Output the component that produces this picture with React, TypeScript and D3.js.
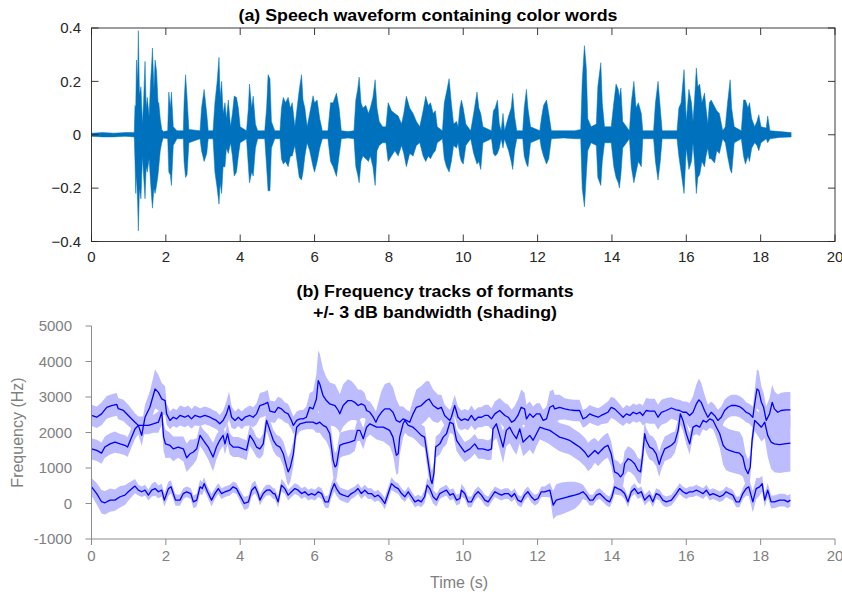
import React from "react";
import * as d3 from "d3";

// ---------- Waveform envelope (seconds, upper peak, lower peak) ----------
const waveT = [
  0.0, 0.3, 0.6, 0.9, 1.15, 1.17, 1.19, 1.21, 1.24, 1.26, 1.29, 1.33, 1.37, 1.4, 1.44, 1.47, 1.5, 1.55, 1.59, 1.62,
  1.64, 1.68, 1.71, 1.75, 1.79, 1.81, 1.85, 1.89, 1.93, 2.05, 2.08, 2.12, 2.15, 2.2, 2.3, 2.47, 2.49, 2.53, 2.57, 2.62,
  2.92, 2.96, 3.03, 3.1, 3.14, 3.27, 3.32, 3.38, 3.43, 3.46, 3.5, 3.54, 3.59, 3.63, 3.68, 3.74, 3.79, 3.84, 3.9, 3.95,
  4.0, 4.17, 4.22, 4.25, 4.31, 4.35, 4.41, 4.47, 4.66, 4.71, 4.75, 4.8, 4.84, 4.93, 5.07, 5.11, 5.16, 5.22, 5.29, 5.35,
  5.4, 5.47, 5.53, 5.59, 5.65, 5.69, 5.74, 5.8, 5.87, 5.96, 6.0, 6.07, 6.14, 6.21, 6.36, 6.43, 6.5, 6.59, 6.66, 6.72,
  6.9, 7.06, 7.11, 7.16, 7.2, 7.25, 7.3, 7.38, 7.45, 7.5, 7.57, 7.63, 7.68, 7.74, 7.83, 7.92, 7.98, 8.07, 8.16, 8.25,
  8.34, 8.4, 8.47, 8.56, 8.65, 8.74, 8.83, 8.92, 8.99, 9.06, 9.12, 9.19, 9.25, 9.3, 9.44, 9.49, 9.55, 9.62, 9.68, 9.74,
  9.82, 9.86, 9.91, 9.95, 10.0, 10.07, 10.2, 10.28, 10.37, 10.42, 10.47, 10.53, 10.76, 10.81, 10.86, 10.92, 10.97, 11.02, 11.07, 11.11,
  11.22, 11.29, 11.33, 11.38, 11.44, 11.6, 11.64, 11.7, 11.74, 11.81, 12.06, 12.1, 12.16, 12.24, 12.3, 12.37, 12.7, 13.0, 13.16, 13.2,
  13.26, 13.31, 13.35, 13.44, 13.58, 13.62, 13.7, 13.74, 13.8, 13.98, 14.05, 14.11, 14.17, 14.2, 14.24, 14.29, 14.47, 14.52, 14.59, 14.65,
  14.71, 14.79, 14.83, 15.12, 15.17, 15.24, 15.3, 15.35, 15.75, 15.8, 15.86, 15.94, 16.0, 16.07, 16.14, 16.18, 16.23, 16.27, 16.31, 16.36,
  16.42, 16.49, 16.53, 16.58, 16.62, 16.67, 16.76, 16.82, 16.89, 16.98, 17.05, 17.11, 17.18, 17.22, 17.29, 17.48, 17.54, 17.59, 17.66, 17.7,
  17.76, 17.84, 17.9, 17.95, 18.01, 18.15, 18.19, 18.25, 18.51, 18.82,
];
const waveHi = [
  0.006, 0.008, 0.006, 0.008, 0.008, 0.11, 0.1, 0.28, 0.2, 0.39, 0.15, 0.18, 0.04, 0.12, 0.275, 0.1, 0.14, 0.07, 0.2, 0.27,
  0.325, 0.17, 0.28, 0.24, 0.12, 0.12, 0.06, 0.02, 0.012, 0.015, 0.16, 0.1, 0.16, 0.03, 0.015, 0.015, 0.12, 0.225, 0.14, 0.02,
  0.015, 0.1, 0.17, 0.08, 0.015, 0.015, 0.12, 0.2, 0.29, 0.14, 0.2, 0.08, 0.12, 0.06, 0.13, 0.03, 0.08, 0.145, 0.14, 0.1,
  0.03, 0.015, 0.1, 0.19, 0.1, 0.145, 0.04, 0.015, 0.015, 0.1, 0.225, 0.21, 0.05, 0.015, 0.015, 0.1, 0.14, 0.12, 0.14, 0.1,
  0.12, 0.03, 0.1, 0.17, 0.225, 0.13, 0.1, 0.03, 0.08, 0.146, 0.12, 0.13, 0.06, 0.015, 0.015, 0.12, 0.12, 0.156, 0.1, 0.015,
  0.012, 0.015, 0.13, 0.17, 0.216, 0.12, 0.1, 0.11, 0.08, 0.1, 0.14, 0.206, 0.1, 0.05, 0.03, 0.03, 0.12, 0.09, 0.08, 0.07,
  0.04, 0.08, 0.144, 0.1, 0.08, 0.05, 0.03, 0.09, 0.144, 0.11, 0.12, 0.08, 0.09, 0.03, 0.015, 0.12, 0.16, 0.21, 0.12, 0.04,
  0.05, 0.03, 0.1, 0.13, 0.1, 0.04, 0.015, 0.08, 0.16, 0.1, 0.08, 0.03, 0.015, 0.09, 0.1, 0.13, 0.04, 0.015, 0.08, 0.015,
  0.07, 0.1, 0.155, 0.07, 0.015, 0.015, 0.1, 0.17, 0.1, 0.03, 0.015, 0.06, 0.11, 0.13, 0.08, 0.015, 0.015, 0.015, 0.02, 0.2,
  0.334, 0.25, 0.06, 0.03, 0.04, 0.18, 0.27, 0.12, 0.03, 0.03, 0.12, 0.19, 0.17, 0.14, 0.175, 0.05, 0.015, 0.12, 0.2, 0.1,
  0.12, 0.08, 0.015, 0.015, 0.12, 0.2, 0.1, 0.015, 0.015, 0.1, 0.12, 0.244, 0.05, 0.17, 0.12, 0.05, 0.15, 0.25, 0.18, 0.19,
  0.12, 0.156, 0.1, 0.04, 0.12, 0.13, 0.106, 0.09, 0.08, 0.015, 0.03, 0.12, 0.206, 0.1, 0.03, 0.015, 0.13, 0.13, 0.1, 0.12,
  0.06, 0.03, 0.05, 0.075, 0.03, 0.025, 0.07, 0.015, 0.012, 0.008,
];
const waveLo = [
  -0.006, -0.008, -0.008, -0.006, -0.008, -0.1, -0.22, -0.15, -0.25, -0.36, -0.2, -0.24, -0.08, -0.15, -0.24, -0.12, -0.14, -0.09, -0.18, -0.24,
  -0.275, -0.2, -0.22, -0.19, -0.15, -0.12, -0.06, -0.03, -0.012, -0.015, -0.14, -0.15, -0.19, -0.04, -0.015, -0.015, -0.1, -0.16, -0.15, -0.03,
  -0.015, -0.06, -0.1, -0.07, -0.015, -0.015, -0.14, -0.2, -0.26, -0.18, -0.22, -0.12, -0.12, -0.05, -0.07, -0.03, -0.08, -0.155, -0.14, -0.08,
  -0.03, -0.015, -0.12, -0.18, -0.14, -0.155, -0.05, -0.015, -0.015, -0.12, -0.21, -0.21, -0.05, -0.015, -0.015, -0.09, -0.11, -0.1, -0.12, -0.08,
  -0.08, -0.04, -0.1, -0.16, -0.17, -0.14, -0.08, -0.03, -0.06, -0.12, -0.14, -0.1, -0.05, -0.015, -0.015, -0.1, -0.12, -0.156, -0.08, -0.015,
  -0.012, -0.015, -0.12, -0.15, -0.18, -0.1, -0.08, -0.09, -0.1, -0.08, -0.12, -0.19, -0.06, -0.04, -0.03, -0.03, -0.1, -0.08, -0.06, -0.08,
  -0.04, -0.07, -0.12, -0.07, -0.08, -0.04, -0.03, -0.08, -0.1, -0.08, -0.09, -0.07, -0.06, -0.03, -0.015, -0.09, -0.12, -0.14, -0.1, -0.04,
  -0.05, -0.03, -0.08, -0.1, -0.11, -0.04, -0.015, -0.07, -0.11, -0.1, -0.13, -0.03, -0.015, -0.07, -0.08, -0.07, -0.05, -0.015, -0.05, -0.015,
  -0.06, -0.1, -0.13, -0.06, -0.015, -0.015, -0.08, -0.11, -0.12, -0.03, -0.015, -0.05, -0.08, -0.11, -0.09, -0.015, -0.012, -0.015, -0.015, -0.2,
  -0.27, -0.15, -0.06, -0.03, -0.04, -0.16, -0.19, -0.1, -0.03, -0.03, -0.12, -0.16, -0.18, -0.2, -0.15, -0.05, -0.015, -0.12, -0.18, -0.14,
  -0.1, -0.12, -0.015, -0.015, -0.1, -0.17, -0.1, -0.015, -0.015, -0.08, -0.14, -0.22, -0.05, -0.13, -0.1, -0.03, -0.12, -0.22, -0.16, -0.15,
  -0.1, -0.12, -0.08, -0.05, -0.09, -0.09, -0.106, -0.06, -0.07, -0.015, -0.03, -0.08, -0.13, -0.144, -0.03, -0.015, -0.08, -0.11, -0.08, -0.1,
  -0.05, -0.03, -0.04, -0.06, -0.03, -0.015, -0.03, -0.015, -0.01, -0.008,
];

// ---------- Formant tracks: [time (s), centre frequency (Hz), half bandwidth (Hz)] ----------
const formant1: [number, number, number][] = [
  [0.0, 470, 250], [0.14, 280, 300], [0.27, 50, 330], [0.36, 20, 330], [0.5, 95, 330], [0.63, 95, 300], [0.77, 190, 300],
  [0.9, 235, 280], [0.99, 330, 250], [1.17, 490, 200], [1.26, 375, 150], [1.35, 330, 150], [1.44, 375, 150], [1.53, 235, 150],
  [1.62, 375, 180], [1.71, 420, 200], [1.8, 330, 180], [1.89, 375, 180], [1.96, 95, 180], [2.07, 420, 200], [2.14, 470, 180],
  [2.2, 280, 160], [2.26, 95, 160], [2.38, 95, 160], [2.47, 280, 150], [2.56, 330, 150], [2.67, 280, 150], [2.74, 45, 180],
  [2.83, 95, 180], [2.92, 470, 200], [2.98, 420, 180], [3.03, 560, 180], [3.12, 330, 150], [3.23, 95, 180], [3.32, 280, 150],
  [3.41, 420, 150], [3.5, 280, 150], [3.59, 330, 150], [3.72, 375, 150], [3.81, 470, 150], [3.9, 420, 150], [3.99, 235, 150],
  [4.11, 0, 180], [4.22, 45, 180], [4.31, 375, 180], [4.4, 470, 180], [4.48, 280, 150], [4.53, 95, 150], [4.62, 280, 150],
  [4.71, 375, 150], [4.8, 380, 150], [4.89, 280, 150], [4.93, 280, 150], [5.02, 47, 160], [5.11, 515, 180], [5.2, 420, 150],
  [5.29, 235, 150], [5.38, 330, 150], [5.47, 420, 150], [5.56, 375, 150], [5.65, 280, 150], [5.74, 330, 150], [5.83, 235, 150],
  [5.92, 280, 150], [6.01, 235, 150], [6.1, 330, 150], [6.19, 280, 150], [6.28, 47, 160], [6.37, 47, 180], [6.46, 375, 200],
  [6.53, 560, 220], [6.59, 420, 200], [6.68, 280, 180], [6.77, 235, 180], [6.9, 190, 180], [6.99, 280, 150], [7.08, 330, 150],
  [7.17, 420, 150], [7.26, 280, 150], [7.35, 375, 150], [7.44, 280, 150], [7.53, 280, 150], [7.62, 190, 150], [7.71, 235, 150],
  [7.8, 140, 150], [7.89, 0, 160], [7.98, 280, 180], [8.07, 560, 180], [8.16, 470, 150], [8.25, 420, 150], [8.34, 280, 150],
  [8.43, 190, 150], [8.52, 330, 150], [8.61, 190, 150], [8.7, 47, 150], [8.79, 95, 150], [8.87, 47, 150], [8.96, 190, 180],
  [9.03, 515, 200], [9.1, 420, 200], [9.19, 190, 200], [9.28, 95, 180], [9.37, 280, 150], [9.46, 330, 150], [9.55, 375, 150],
  [9.64, 235, 150], [9.73, 280, 150], [9.82, 95, 150], [9.91, 140, 150], [9.95, 375, 180], [10.04, 280, 150], [10.13, 47, 150],
  [10.22, 47, 150], [10.31, 235, 150], [10.4, 330, 150], [10.49, 235, 150], [10.58, 95, 150], [10.67, 47, 150], [10.76, 190, 150],
  [10.85, 330, 150], [10.94, 280, 150], [11.03, 235, 150], [11.12, 280, 150], [11.21, 280, 150], [11.3, 190, 150], [11.38, 280, 150],
  [11.47, 95, 150], [11.56, 47, 150], [11.65, 235, 150], [11.74, 330, 150], [11.83, 190, 150], [11.92, 95, 150], [12.01, 140, 150],
  [12.1, 330, 150], [12.19, 330, 150], [12.33, 375, 200], [12.42, -47, 400], [12.5, 95, 450], [12.64, 140, 450], [12.82, 190, 420],
  [13.0, 235, 380], [13.13, 280, 300], [13.22, 330, 200], [13.31, 235, 150], [13.4, 95, 150], [13.49, 95, 150], [13.58, 235, 150],
  [13.67, 280, 150], [13.76, 190, 150], [13.85, 95, 150], [13.94, 47, 150], [14.0, 190, 160], [14.07, 470, 200], [14.16, 420, 180],
  [14.25, 375, 150], [14.34, 280, 150], [14.43, 47, 150], [14.52, 330, 150], [14.61, 420, 150], [14.7, 280, 150], [14.79, 330, 150],
  [14.88, 95, 150], [14.92, 140, 150], [15.01, 235, 150], [15.1, 47, 150], [15.19, 280, 150], [15.28, 235, 150], [15.37, 95, 150],
  [15.46, 47, 150], [15.6, 95, 150], [15.73, 280, 150], [15.82, 420, 150], [15.91, 330, 150], [16.0, 280, 150], [16.09, 330, 150],
  [16.18, 330, 150], [16.27, 375, 150], [16.36, 330, 150], [16.45, 280, 150], [16.54, 375, 150], [16.63, 235, 150], [16.72, 280, 150],
  [16.81, 235, 150], [16.9, 190, 150], [16.99, 235, 150], [17.07, 330, 150], [17.16, 280, 150], [17.25, 235, 150], [17.34, 47, 150],
  [17.43, 47, 150], [17.52, 280, 160], [17.61, 420, 200], [17.68, 470, 250], [17.79, 47, 300], [17.88, 420, 300], [17.97, 470, 250],
  [18.04, 560, 220], [18.11, 95, 200], [18.19, 375, 200], [18.28, 47, 180], [18.37, 47, 180], [18.51, 95, 180], [18.64, 95, 180],
  [18.73, 47, 180], [18.8, 95, 180],
];

const formant2: [number, number, number][] = [
  [0.0, 1540, 300], [0.14, 1495, 300], [0.27, 1420, 300], [0.36, 1590, 300], [0.5, 1680, 300], [0.63, 1730, 300], [0.77, 1680, 280],
  [0.9, 1640, 280], [0.97, 1590, 280], [1.08, 1870, 280], [1.17, 2100, 280], [1.26, 2200, 250], [1.39, 2200, 250], [1.53, 2200, 250],
  [1.66, 2245, 250], [1.8, 2290, 300], [1.89, 2570, 350], [1.94, 1870, 400], [1.99, 1680, 400], [2.11, 1640, 350], [2.2, 1540, 350],
  [2.33, 1590, 300], [2.47, 1540, 350], [2.56, 1290, 400], [2.65, 1400, 400], [2.74, 1450, 350], [2.83, 1540, 300], [2.92, 1920, 300],
  [3.01, 1780, 300], [3.14, 1590, 350], [3.27, 1310, 400], [3.36, 1590, 350], [3.45, 1780, 300], [3.54, 1920, 300], [3.59, 1680, 300],
  [3.66, 1965, 300], [3.72, 1680, 300], [3.81, 1590, 280], [3.95, 1590, 280], [4.08, 1540, 280], [4.17, 1500, 280], [4.26, 1920, 300],
  [4.35, 1780, 300], [4.44, 1590, 280], [4.53, 1540, 280], [4.62, 1680, 300], [4.71, 2340, 300], [4.8, 2060, 300], [4.89, 1780, 300],
  [4.98, 1640, 300], [5.07, 1590, 300], [5.16, 1400, 350], [5.25, 1030, 400], [5.29, 890, 400], [5.35, 1030, 400], [5.43, 1400, 350],
  [5.47, 1780, 300], [5.52, 2150, 250], [5.61, 2245, 200], [5.78, 2290, 200], [5.96, 2290, 200], [6.05, 2245, 250], [6.14, 2290, 300],
  [6.23, 2200, 350], [6.32, 2150, 400], [6.41, 1965, 450], [6.5, 1215, 450], [6.55, 1030, 400], [6.59, 1075, 400], [6.68, 1640, 350],
  [6.77, 1680, 350], [6.95, 1730, 350], [7.08, 1780, 300], [7.15, 2060, 300], [7.22, 2060, 300], [7.31, 1825, 300], [7.4, 2150, 300],
  [7.49, 2245, 300], [7.67, 2150, 350], [7.85, 2150, 400], [8.02, 2060, 450], [8.11, 1870, 500], [8.2, 1360, 550], [8.25, 1400, 550],
  [8.29, 1870, 500], [8.38, 2245, 400], [8.43, 2340, 350], [8.52, 2200, 300], [8.65, 2150, 300], [8.74, 2060, 300], [8.87, 1920, 300],
  [8.96, 1870, 300], [9.05, 1215, 350], [9.13, 655, 350], [9.16, 560, 350], [9.21, 840, 350], [9.26, 1590, 300], [9.37, 1680, 300],
  [9.46, 1870, 300], [9.55, 1965, 300], [9.64, 2290, 300], [9.73, 2245, 300], [9.82, 1780, 300], [9.91, 1640, 300], [10.04, 1450, 280],
  [10.18, 1540, 280], [10.31, 1680, 280], [10.4, 1540, 280], [10.53, 1540, 280], [10.67, 1495, 280], [10.76, 1540, 300], [10.8, 2100, 350],
  [10.89, 2245, 400], [10.98, 1920, 400], [11.07, 1590, 450], [11.16, 2060, 450], [11.25, 2150, 450], [11.34, 1965, 450], [11.43, 1825, 450],
  [11.52, 2100, 400], [11.61, 1730, 400], [11.7, 1825, 400], [11.79, 1920, 400], [11.88, 1780, 400], [11.97, 1965, 350], [12.06, 2150, 350],
  [12.19, 2100, 350], [12.33, 2060, 400], [12.46, 1965, 400], [12.59, 1870, 400], [12.73, 1825, 400], [12.86, 1780, 400], [13.0, 1680, 400],
  [13.13, 1590, 400], [13.27, 1450, 400], [13.36, 1310, 400], [13.45, 1400, 400], [13.54, 1495, 350], [13.63, 1400, 350], [13.71, 1495, 350],
  [13.8, 1590, 350], [13.89, 1640, 350], [13.98, 1400, 350], [14.07, 890, 350], [14.16, 840, 350], [14.23, 750, 350], [14.3, 840, 350],
  [14.34, 1120, 350], [14.43, 1260, 350], [14.52, 1215, 350], [14.61, 1120, 350], [14.7, 935, 350], [14.77, 890, 350], [14.83, 1400, 350],
  [14.88, 1965, 350], [14.92, 1780, 350], [15.01, 1590, 350], [15.1, 1540, 350], [15.19, 1400, 350], [15.27, 1100, 350], [15.33, 1310, 350],
  [15.42, 1540, 350], [15.51, 1590, 350], [15.6, 1640, 350], [15.69, 1730, 300], [15.78, 2060, 300], [15.84, 2525, 300], [15.91, 2340, 300],
  [16.0, 1965, 300], [16.09, 1680, 300], [16.18, 2150, 250], [16.27, 2200, 250], [16.36, 2150, 250], [16.45, 2340, 250], [16.54, 2290, 250],
  [16.63, 2385, 250], [16.72, 2340, 250], [16.81, 2150, 300], [16.9, 1965, 400], [16.99, 1640, 550], [17.07, 1540, 600], [17.16, 1495, 600],
  [17.3, 1450, 600], [17.43, 1420, 600], [17.52, 1310, 550], [17.59, 985, 450], [17.66, 840, 400], [17.72, 1030, 350], [17.77, 1780, 300],
  [17.84, 2340, 300], [17.93, 2245, 350], [18.02, 2150, 400], [18.11, 2290, 450], [18.19, 1920, 600], [18.28, 1730, 750], [18.37, 1680, 800],
  [18.51, 1660, 800], [18.64, 1680, 800], [18.8, 1700, 800],
];

const formant3: [number, number, number][] = [
  [0.0, 2480, 300], [0.14, 2430, 300], [0.27, 2525, 320], [0.41, 2710, 320], [0.54, 2760, 320], [0.68, 2790, 320], [0.72, 2670, 300],
  [0.86, 2620, 300], [0.99, 2480, 300], [1.17, 2290, 250], [1.26, 2200, 250], [1.35, 1920, 300], [1.44, 2430, 350], [1.57, 2710, 450],
  [1.71, 3225, 550], [1.8, 3130, 500], [1.89, 2945, 450], [1.98, 2900, 400], [2.02, 2525, 300], [2.11, 2340, 250], [2.2, 2430, 250],
  [2.29, 2385, 250], [2.38, 2480, 280], [2.51, 2430, 280], [2.6, 2480, 280], [2.69, 2385, 280], [2.78, 2480, 280], [2.92, 2430, 250],
  [3.05, 2480, 250], [3.19, 2430, 250], [3.27, 2385, 250], [3.36, 2340, 250], [3.45, 2245, 250], [3.54, 2340, 280], [3.63, 2525, 350],
  [3.7, 2760, 400], [3.77, 2430, 300], [3.86, 2340, 250], [3.95, 2430, 250], [4.04, 2340, 250], [4.13, 2430, 250], [4.26, 2480, 280],
  [4.35, 2430, 280], [4.44, 2525, 300], [4.53, 2760, 350], [4.66, 2805, 350], [4.74, 2850, 350], [4.8, 2600, 300], [4.93, 2570, 300],
  [5.02, 2710, 300], [5.11, 2665, 300], [5.2, 2570, 280], [5.29, 2525, 280], [5.38, 2340, 250], [5.43, 2200, 250], [5.52, 2340, 250],
  [5.61, 2385, 250], [5.69, 2385, 250], [5.78, 2430, 300], [5.87, 2710, 400], [5.96, 2665, 500], [6.05, 2945, 700], [6.1, 3460, 850],
  [6.14, 3365, 850], [6.23, 3040, 750], [6.32, 2900, 650], [6.41, 2805, 600], [6.55, 2760, 600], [6.64, 2620, 550], [6.68, 2525, 550],
  [6.77, 2760, 600], [6.9, 2900, 600], [6.99, 2900, 550], [7.08, 2850, 500], [7.17, 2760, 450], [7.26, 2805, 400], [7.35, 2760, 350],
  [7.4, 2620, 300], [7.49, 2570, 300], [7.58, 2430, 300], [7.65, 2290, 300], [7.71, 2430, 400], [7.8, 2570, 600], [7.89, 2665, 700],
  [8.02, 2665, 750], [8.11, 2570, 700], [8.2, 2340, 600], [8.29, 2290, 450], [8.38, 2385, 350], [8.47, 2340, 300], [8.56, 2290, 300],
  [8.65, 2525, 400], [8.74, 2710, 500], [8.87, 2760, 550], [9.01, 2900, 550], [9.08, 2945, 500], [9.19, 2760, 450], [9.32, 2665, 400],
  [9.41, 2710, 350], [9.5, 2480, 300], [9.59, 2385, 300], [9.64, 2340, 300], [9.68, 2430, 300], [9.77, 2760, 300], [9.86, 2430, 300],
  [9.95, 2340, 280], [10.04, 2385, 280], [10.13, 2340, 280], [10.22, 2480, 280], [10.31, 2340, 280], [10.4, 2430, 280], [10.49, 2430, 280],
  [10.58, 2480, 300], [10.67, 2480, 300], [10.76, 2385, 300], [10.85, 2525, 350], [10.98, 2620, 350], [11.12, 2480, 350], [11.21, 2430, 350],
  [11.3, 2290, 350], [11.38, 2340, 400], [11.47, 2480, 450], [11.56, 2710, 500], [11.65, 2665, 450], [11.7, 2385, 400], [11.79, 2525, 350],
  [11.88, 2430, 300], [11.97, 2525, 300], [12.06, 2525, 300], [12.15, 2340, 300], [12.24, 2385, 350], [12.33, 2710, 450], [12.42, 2760, 450],
  [12.46, 2665, 400], [12.59, 2710, 350], [12.73, 2665, 300], [12.86, 2640, 300], [13.0, 2620, 300], [13.13, 2620, 300], [13.22, 2385, 250],
  [13.31, 2430, 250], [13.4, 2525, 250], [13.49, 2480, 250], [13.63, 2430, 250], [13.71, 2480, 250], [13.8, 2525, 280], [13.89, 2570, 300],
  [13.98, 2710, 300], [14.07, 2665, 300], [14.21, 2525, 280], [14.3, 2430, 250], [14.39, 2525, 250], [14.48, 2480, 250], [14.57, 2570, 250],
  [14.66, 2525, 250], [14.75, 2570, 250], [14.83, 2480, 280], [14.92, 2620, 350], [15.01, 2600, 350], [15.15, 2600, 350], [15.24, 2430, 350],
  [15.33, 2570, 350], [15.46, 2620, 350], [15.6, 2690, 300], [15.73, 2640, 300], [15.82, 2620, 300], [15.91, 2570, 300], [16.0, 2570, 300],
  [16.09, 2480, 350], [16.18, 2570, 450], [16.27, 2805, 550], [16.34, 2920, 600], [16.4, 2850, 550], [16.49, 2620, 450], [16.58, 2430, 350],
  [16.67, 2570, 300], [16.76, 2480, 300], [16.85, 2340, 300], [16.94, 2430, 300], [17.03, 2620, 300], [17.12, 2710, 300], [17.21, 2760, 300],
  [17.34, 2760, 300], [17.43, 2730, 300], [17.52, 2665, 300], [17.61, 2570, 280], [17.7, 2525, 280], [17.79, 2430, 300], [17.84, 2805, 400],
  [17.9, 3225, 550], [17.95, 3180, 550], [18.02, 2850, 450], [18.08, 2710, 400], [18.15, 2340, 400], [18.24, 2525, 450], [18.31, 2850, 500],
  [18.37, 2665, 500], [18.46, 2570, 500], [18.55, 2620, 500], [18.69, 2640, 500], [18.8, 2640, 500],
];

// ---------- Axis ticks and labels ----------
const timeTicks = [0, 2, 4, 6, 8, 10, 12, 14, 16, 18, 20];
const ampTicks = [-0.4, -0.2, 0, 0.2, 0.4];
const freqTicks = [-1000, 0, 1000, 2000, 3000, 4000, 5000];
const titleA = "(a) Speech waveform containing color words";
const titleB1 = "(b) Frequency tracks of formants";
const titleB2 = "+/- 3 dB bandwidth (shading)";
const xLabel = "Time (s)";
const yLabel = "Frequency (Hz)";

const FONT = "'Liberation Sans', Arial, Helvetica, sans-serif";

export default function App() {
  const xA = d3.scaleLinear().domain([0, 20]).range([91.5, 835]);
  const yA = d3.scaleLinear().domain([-0.4, 0.4]).range([241.5, 28]);
  const xB = d3.scaleLinear().domain([0, 20]).range([91.5, 835]);
  const yB = d3.scaleLinear().domain([-1000, 5000]).range([539, 326]);

  const waveIdx = d3.range(waveT.length);
  const waveArea = d3
    .area<number>()
    .x((i) => xA(waveT[i]))
    .y0((i) => yA(waveLo[i]))
    .y1((i) => yA(waveHi[i]));

  const band = d3
    .area<[number, number, number]>()
    .x((d) => xB(d[0]))
    .y0((d) => yB(d[1] - d[2]))
    .y1((d) => yB(d[1] + d[2]));
  const track = d3
    .line<[number, number, number]>()
    .x((d) => xB(d[0]))
    .y((d) => yB(d[1]));

  const formants = [formant1, formant2, formant3];
  const axA = "#262626";
  const axB = "#8c8c8c";
  const txtB = "#808080";

  const [a0, a1] = xA.range();
  const [aBot, aTop] = yA.range();

  return (
    <svg
      width={842}
      height={597}
      style={{ position: "absolute", left: 0, top: 0, background: "#fff" }}
      fontFamily={FONT}
    >
      <rect width={842} height={597} fill="#fff" />

      {/* ---------- Panel (a): waveform ---------- */}
      <text x={428} y={21} textAnchor="middle" fontSize={16} fontWeight="bold" fill="#000"
        textLength={379} lengthAdjust="spacingAndGlyphs">
        {titleA}
      </text>
      <path d={waveArea(waveIdx) ?? ""} fill="#0072BD" stroke="#0072BD" strokeWidth={0.5} strokeLinejoin="round" />
      <rect x={a0} y={aTop} width={a1 - a0} height={aBot - aTop} fill="none" stroke={axA} strokeWidth={0.9} />
      {timeTicks.map((t) => (
        <g key={"ta" + t}>
          <line x1={xA(t)} x2={xA(t)} y1={aBot} y2={aBot - 7} stroke={axA} strokeWidth={0.9} />
          <line x1={xA(t)} x2={xA(t)} y1={aTop} y2={aTop + 7} stroke={axA} strokeWidth={0.9} />
          <text x={xA(t)} y={262} textAnchor="middle" fontSize={15} fill={axA}>
            {t}
          </text>
        </g>
      ))}
      {ampTicks.map((v) => (
        <g key={"va" + v}>
          <line x1={a0} x2={a0 + 7} y1={yA(v)} y2={yA(v)} stroke={axA} strokeWidth={0.9} />
          <line x1={a1} x2={a1 - 7} y1={yA(v)} y2={yA(v)} stroke={axA} strokeWidth={0.9} />
          <text x={81} y={yA(v)} dy="0.35em" textAnchor="end" fontSize={15} fill={axA}>
            {d3.format("")(v)}
          </text>
        </g>
      ))}

      {/* ---------- Panel (b): formant tracks ---------- */}
      <text x={435} y={297} textAnchor="middle" fontSize={16} fontWeight="bold" fill="#000"
        textLength={277} lengthAdjust="spacingAndGlyphs">
        {titleB1}
      </text>
      <text x={435} y={318} textAnchor="middle" fontSize={16} fontWeight="bold" fill="#000"
        textLength={244} lengthAdjust="spacingAndGlyphs">
        {titleB2}
      </text>
      {formants.map((f, i) => (
        <path key={"band" + i} d={band(f) ?? ""} fill="#bcbcff" stroke="none" />
      ))}
      {formants.map((f, i) => (
        <path key={"trk" + i} d={track(f) ?? ""} fill="none" stroke="#0000ff" strokeWidth={1.3} strokeLinejoin="round" />
      ))}
      <line x1={xB(0)} x2={xB(20)} y1={yB(-1000)} y2={yB(-1000)} stroke={axB} strokeWidth={1} />
      <line x1={xB(0)} x2={xB(0)} y1={yB(-1000)} y2={yB(5000)} stroke={axB} strokeWidth={1} />
      {timeTicks.map((t) => (
        <g key={"tb" + t}>
          <line x1={xB(t)} x2={xB(t)} y1={yB(-1000)} y2={yB(-1000) + 6} stroke={axB} strokeWidth={1} />
          <text x={xB(t)} y={561} textAnchor="middle" fontSize={15} fill={txtB}>
            {t}
          </text>
        </g>
      ))}
      {freqTicks.map((v) => (
        <g key={"fb" + v}>
          <line x1={xB(0) - 6} x2={xB(0)} y1={yB(v)} y2={yB(v)} stroke={axB} strokeWidth={1} />
          <text x={72} y={yB(v)} dy="0.35em" textAnchor="end" fontSize={15} fill={txtB}>
            {v}
          </text>
        </g>
      ))}
      <text x={459} y={588} textAnchor="middle" fontSize={16} fill={txtB}>
        {xLabel}
      </text>
      <text
        transform={`translate(23, ${yB(2000)}) rotate(-90)`}
        textAnchor="middle"
        fontSize={16}
        fill={txtB}
      >
        {yLabel}
      </text>
    </svg>
  );
}
